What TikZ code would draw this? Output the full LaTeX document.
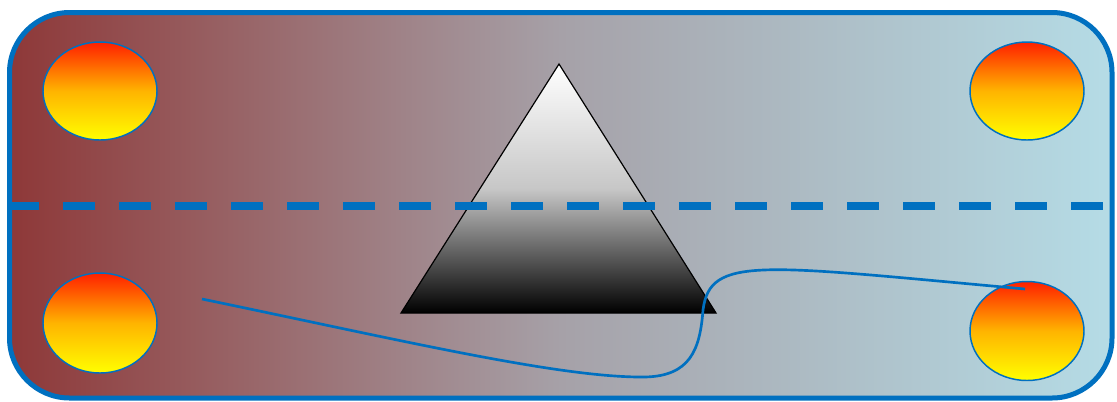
\documentclass[tikz,border=0pt]{standalone}
\usepackage{tikz}
\definecolor{bblue}{HTML}{0070C0}
\definecolor{bgleft}{HTML}{8E3838}
\definecolor{bgmid}{HTML}{A6A1A8}
\definecolor{bgright}{HTML}{B5DCE6}
\definecolor{ballred}{HTML}{FF2000}
\definecolor{ballmid}{HTML}{FFB400}
\tikzset{
  ball/.style={draw=bblue, line width=1.1pt, top color=ballred, bottom color=yellow, middle color=ballmid},
  frame/.style={draw=bblue, line width=3.75pt, rounded corners=45pt, left color=bgleft, right color=bgright, middle color=bgmid},
  prism/.style={draw=black, line width=0.9pt, line join=miter, top color=white, bottom color=black, middle color=black!22},
  divider/.style={draw=bblue, line width=6pt, dash pattern=on 24pt off 18pt},
  wire/.style={draw=bblue, line width=2pt}
}
\begin{document}
\begin{tikzpicture}[x=0.75pt,y=-0.75pt]
\useasboundingbox (0,0) rectangle (1117,401);
\path[frame] (9.5,12.5) rectangle (1112,398);
\path[ball] (100,91) ellipse [x radius=57, y radius=49];
\path[ball] (100,323) ellipse [x radius=57, y radius=50];
\path[ball] (1027,91) ellipse [x radius=57, y radius=49];
\path[ball] (1027,331) ellipse [x radius=57, y radius=49.5];
\path[prism] (559,64) -- (716,313) -- (401,313) -- cycle;
\coordinate (dl) at (7,205.5);
\coordinate (dr) at (1110,205.5);
\path[divider] (dl) -- (dr);
\coordinate (ws) at (202,299);
\coordinate (wa) at (645,377);
\coordinate (wb) at (703,310);
\coordinate (we) at (1025,289);
\path[wire] (ws) .. controls (400,340) and (560,378) .. (wa)
  .. controls (690,376) and (700,350) .. (wb)
  .. controls (710,255) and (760,265) .. (we);
\end{tikzpicture}
\end{document}
